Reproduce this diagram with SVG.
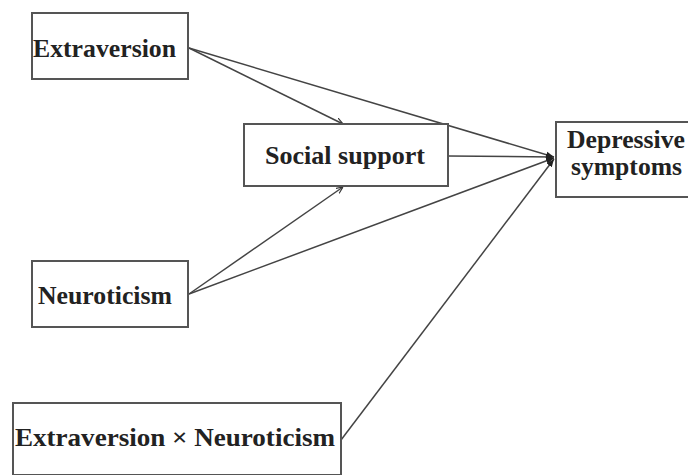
<svg xmlns="http://www.w3.org/2000/svg" width="688" height="475" viewBox="0 0 688 475">
<defs>
<marker id="arr" viewBox="0 0 10 10" refX="10" refY="5" markerWidth="7" markerHeight="7" markerUnits="userSpaceOnUse" orient="auto">
<path d="M0,0.5 L10,5 L0,9.5" fill="none" stroke="#333" stroke-width="1.6"/>
</marker>
<marker id="arrf" viewBox="0 0 10 10" refX="10" refY="5" markerWidth="8" markerHeight="8" markerUnits="userSpaceOnUse" orient="auto">
<path d="M0,1 L10,5 L0,9 Z" fill="#222"/>
</marker>
</defs>
<style>
.box{fill:#fff;stroke:#555;stroke-width:2}
.t{font-weight:bold;fill:#222}
.c{fill:none;stroke:#444;stroke-width:1.5}
</style>
<rect width="688" height="475" fill="#fff"/>
<g id="connectors">
<line class="c" x1="189" y1="48" x2="343" y2="124" marker-end="url(#arr)"/>
<line class="c" x1="189" y1="48" x2="554" y2="157" marker-end="url(#arrf)"/>
<line class="c" x1="448" y1="156" x2="554" y2="157" marker-end="url(#arrf)"/>
<line class="c" x1="189" y1="294" x2="343" y2="187" marker-end="url(#arr)"/>
<line class="c" x1="189" y1="294" x2="554" y2="158" marker-end="url(#arrf)"/>
<line class="c" x1="341" y1="440" x2="554" y2="159" marker-end="url(#arrf)"/>
</g>
<g id="extraversion">
<rect class="box" x="32" y="13" width="156" height="66"/>
<text class="t" font-family="Liberation Serif, serif" x="33" y="57" font-size="26" textLength="143" lengthAdjust="spacingAndGlyphs">Extraversion</text>
</g>
<g id="social-support">
<rect class="box" x="244" y="124" width="204" height="62"/>
<text class="t" font-family="Liberation Serif, serif" x="265" y="164" font-size="26" textLength="160" lengthAdjust="spacingAndGlyphs">Social support</text>
</g>
<g id="depressive-symptoms">
<rect class="box" x="556" y="122" width="140" height="75"/>
<text class="t" font-family="Liberation Serif, serif" x="567" y="148" font-size="25" textLength="118" lengthAdjust="spacingAndGlyphs">Depressive</text>
<text class="t" font-family="Liberation Serif, serif" x="571" y="175" font-size="25" textLength="111" lengthAdjust="spacingAndGlyphs">symptoms</text>
</g>
<g id="neuroticism">
<rect class="box" x="32" y="261" width="156" height="66"/>
<text class="t" font-family="Liberation Serif, serif" x="38" y="304" font-size="26" textLength="134" lengthAdjust="spacingAndGlyphs">Neuroticism</text>
</g>
<g id="interaction">
<rect class="box" x="13" y="403" width="328" height="72"/>
<text class="t" font-family="Liberation Serif, serif" x="15" y="446" font-size="26" textLength="320" lengthAdjust="spacingAndGlyphs">Extraversion × Neuroticism</text>
</g>
</svg>
